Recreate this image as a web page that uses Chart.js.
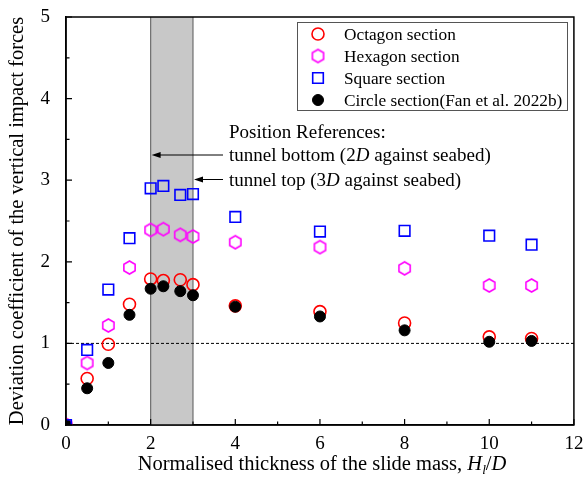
<!DOCTYPE html>
<html>
<head>
<meta charset="utf-8">
<script src="https://cdn.jsdelivr.net/npm/chart.js@4/dist/chart.umd.min.js"></script>
<style>
  html, body { margin: 0; padding: 0; background: #fff; }
  #wrap { width: 583px; height: 486px; }
</style>
</head>
<body>
<div id="wrap"><canvas id="chart" width="583" height="486"></canvas></div>
<script>
// normalised slide thickness Hl/D
const thickness = [0, 0.5, 1, 1.5, 2, 2.3, 2.7, 3, 4, 6, 8, 10, 11];

// deviation coefficients for each tunnel section
const octagonVals = [0, 0.57, 0.99, 1.48, 1.79, 1.77, 1.78, 1.72, 1.46, 1.39, 1.25, 1.08, 1.06];
const hexagonVals = [0, 0.76, 1.22, 1.93, 2.39, 2.40, 2.33, 2.31, 2.24, 2.18, 1.92, 1.71, 1.71];
const squareVals  = [0, 0.92, 1.66, 2.29, 2.90, 2.93, 2.82, 2.83, 2.55, 2.37, 2.38, 2.32, 2.21];
const circleVals  = [0, 0.45, 0.76, 1.35, 1.67, 1.70, 1.64, 1.59, 1.45, 1.33, 1.16, 1.02, 1.03];

const seriesNames = ['Octagon section', 'Hexagon section', 'Square section', 'Circle section(Fan et al. 2022b)'];

// tunnel position band and reference level
const tunnelBand = [2, 3];
const referenceLevel = 1;

const SERIF = '"Liberation Serif", "Times New Roman", serif';

const toPoints = vals => thickness.map((x, i) => ({ x, y: vals[i] }));

// hexagon marker (vertical sides) as an image point style
function hexMarker(color, r) {
  const size = Math.ceil(r * 2 + 4);
  const c = document.createElement('canvas');
  c.width = size; c.height = size;
  const g = c.getContext('2d');
  g.strokeStyle = color;
  g.lineWidth = 1.6;
  g.beginPath();
  for (let k = 0; k < 6; k++) {
    const a = Math.PI / 2 + k * Math.PI / 3;
    const px = size / 2 + r * Math.cos(a);
    const py = size / 2 - r * Math.sin(a);
    k === 0 ? g.moveTo(px, py) : g.lineTo(px, py);
  }
  g.closePath();
  g.stroke();
  return c;
}

// draws a run of text pieces with mixed italic / subscript
function drawRuns(ctx, runs, x, y, size, align) {
  const fontOf = r => `${r.i ? 'italic ' : ''}${r.sub ? size * 0.65 : size}px ${SERIF}`;
  let total = 0;
  runs.forEach(r => { ctx.font = fontOf(r); total += ctx.measureText(r.t).width; });
  let cx = align === 'center' ? x - total / 2 : x;
  ctx.textBaseline = 'alphabetic';
  ctx.textAlign = 'left';
  runs.forEach(r => {
    ctx.font = fontOf(r);
    ctx.fillText(r.t, cx, r.sub ? y + size * 0.2 : y);
    cx += ctx.measureText(r.t).width;
  });
}

const bandPlugin = {
  id: 'tunnelBand',
  beforeDatasetsDraw(chart) {
    const { ctx, chartArea } = chart;
    const xs = chart.scales.x, ys = chart.scales.y;
    const x0 = xs.getPixelForValue(tunnelBand[0]);
    const x1 = xs.getPixelForValue(tunnelBand[1]);
    ctx.save();
    ctx.fillStyle = '#c8c8c8';
    ctx.fillRect(x0, chartArea.top, x1 - x0, chartArea.bottom - chartArea.top);
    ctx.strokeStyle = '#6e6e6e';
    ctx.lineWidth = 1.2;
    ctx.beginPath();
    ctx.moveTo(x0, chartArea.top); ctx.lineTo(x0, chartArea.bottom);
    ctx.moveTo(x1, chartArea.top); ctx.lineTo(x1, chartArea.bottom);
    ctx.stroke();

    // dashed reference line
    const yr = ys.getPixelForValue(referenceLevel);
    ctx.strokeStyle = '#000';
    ctx.lineWidth = 1;
    ctx.setLineDash([3, 2]);
    ctx.beginPath();
    ctx.moveTo(chartArea.left, yr); ctx.lineTo(chartArea.right, yr);
    ctx.stroke();
    ctx.restore();
  }
};

const framePlugin = {
  id: 'frame',
  afterDraw(chart) {
    const { ctx, chartArea: a } = chart;
    const xs = chart.scales.x, ys = chart.scales.y;
    ctx.save();
    ctx.strokeStyle = '#000';
    ctx.lineWidth = 1.5;
    ctx.strokeRect(a.left, a.top, a.right - a.left, a.bottom - a.top);

    // inward ticks, majors and minors
    ctx.lineWidth = 1.2;
    ctx.beginPath();
    for (let v = 0; v <= 12; v++) {
      const px = xs.getPixelForValue(v);
      const len = v % 2 === 0 ? 6 : 3.5;
      ctx.moveTo(px, a.bottom); ctx.lineTo(px, a.bottom - len);
    }
    for (let v = 0; v <= 5; v += 0.5) {
      const py = ys.getPixelForValue(v);
      const len = Number.isInteger(v) ? 6 : 3.5;
      ctx.moveTo(a.left, py); ctx.lineTo(a.left + len, py);
    }
    ctx.stroke();

    // x axis title
    ctx.fillStyle = '#000';
    drawRuns(ctx, [
      { t: 'Normalised thickness of the slide mass, ' },
      { t: 'H', i: true },
      { t: 'l', i: true, sub: true },
      { t: '/' },
      { t: 'D', i: true }
    ], 322, 470, 20.5, 'center');

    // position references
    const tx = 229;
    ctx.font = `19px ${SERIF}`;
    ctx.fillText('Position References:', tx, 138);
    drawRuns(ctx, [{ t: 'tunnel bottom (2' }, { t: 'D', i: true }, { t: ' against seabed)' }], tx, 161, 19, 'left');
    drawRuns(ctx, [{ t: 'tunnel top (3' }, { t: 'D', i: true }, { t: ' against seabed)' }], tx, 186, 19, 'left');
    const arrows = [[tunnelBand[0], 155], [tunnelBand[1], 179.5]];
    arrows.forEach(([v, y]) => {
      const xEnd = xs.getPixelForValue(v) + 1;
      ctx.strokeStyle = '#000';
      ctx.lineWidth = 1;
      ctx.beginPath();
      ctx.moveTo(tx - 6, y); ctx.lineTo(xEnd + 6, y);
      ctx.stroke();
      ctx.beginPath();
      ctx.moveTo(xEnd, y); ctx.lineTo(xEnd + 9, y - 3); ctx.lineTo(xEnd + 9, y + 3);
      ctx.closePath();
      ctx.fill();
    });

    // legend box
    const lx = 297, ly = 22, lw = 270, lh = 88;
    ctx.strokeStyle = '#555';
    ctx.lineWidth = 1;
    ctx.strokeRect(lx + 0.5, ly + 0.5, lw, lh);
    chart.data.datasets.forEach((ds, i) => {
      const y = ly + 12 + i * 22;
      ctx.save();
      ctx.strokeStyle = ds.borderColor;
      ctx.fillStyle = ds.backgroundColor;
      ctx.lineWidth = ds.borderWidth;
      Chart.helpers.drawPoint(ctx, {
        pointStyle: ds.pointStyle, radius: ds.pointRadius, rotation: 0, borderWidth: ds.borderWidth
      }, lx + 21, y);
      ctx.restore();
      ctx.fillStyle = '#000';
      ctx.font = `17.3px ${SERIF}`;
      ctx.textBaseline = 'middle';
      ctx.fillText(ds.label, lx + 47, y + 1);
      ctx.textBaseline = 'alphabetic';
    });
    ctx.restore();
  }
};

const hexImg = hexMarker('#ff00ff', 6.5);

new Chart(document.getElementById('chart'), {
  type: 'scatter',
  data: {
    datasets: [
      { label: seriesNames[0], data: toPoints(octagonVals), pointStyle: 'circle', pointRadius: 6,
        borderColor: '#ff0000', backgroundColor: 'rgba(0,0,0,0)', borderWidth: 1.6, order: 3, clip: 0 },
      { label: seriesNames[1], data: toPoints(hexagonVals), pointStyle: hexImg, pointRadius: 6.5,
        borderColor: '#ff00ff', backgroundColor: 'rgba(0,0,0,0)', borderWidth: 1.6, order: 2, clip: 0 },
      { label: seriesNames[2], data: toPoints(squareVals), pointStyle: 'rect', pointRadius: 7.5,
        borderColor: '#0000ff', backgroundColor: 'rgba(0,0,0,0)', borderWidth: 1.6, order: 0, clip: 0 },
      { label: seriesNames[3], data: toPoints(circleVals), pointStyle: 'circle', pointRadius: 5.5,
        borderColor: '#000', backgroundColor: '#000', borderWidth: 1, order: 1, clip: 0 }
    ]
  },
  options: {
    responsive: false,
    animation: false,
    layout: { padding: { left: 0, right: 9, top: 17, bottom: 0 } },
    plugins: { legend: { display: false }, tooltip: { enabled: false } },
    scales: {
      x: {
        type: 'linear', min: 0, max: 12,
        grid: { display: false, drawTicks: false },
        border: { display: true, color: '#000', width: 1.5 },
        ticks: { stepSize: 2, padding: 8, color: '#000', font: { family: SERIF, size: 19 } },
        afterFit: s => { s.height = 61; s.paddingLeft = 0; s.paddingRight = 0; }
      },
      y: {
        min: 0, max: 5,
        grid: { display: false, drawTicks: false },
        border: { display: true, color: '#000', width: 1.5 },
        ticks: { stepSize: 1, padding: 16, color: '#000', font: { family: SERIF, size: 19 } },
        title: { display: true, text: 'Deviation coefficient of the vertical impact forces',
          color: '#000', font: { family: SERIF, size: 20.5 }, padding: { top: 5, bottom: 0 } },
        afterFit: s => { s.width = 66; s.paddingTop = 0; s.paddingBottom = 0; }
      }
    }
  },
  plugins: [bandPlugin, framePlugin]
});
</script>
</body>
</html>
